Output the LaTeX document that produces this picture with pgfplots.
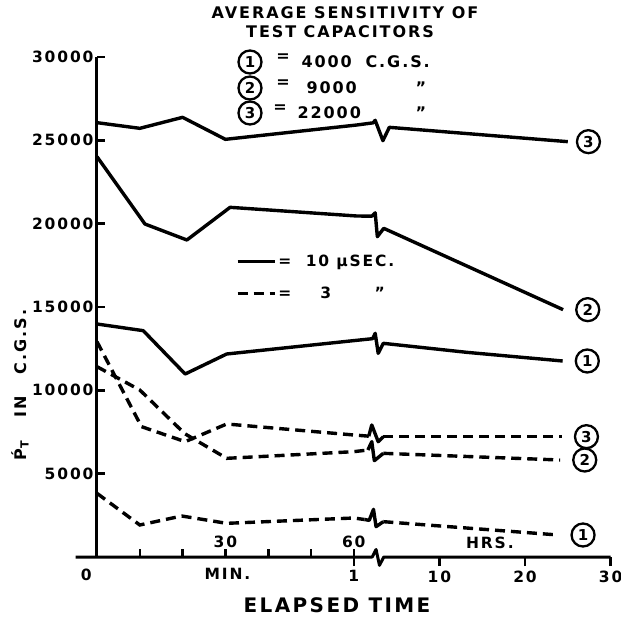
\documentclass[border=0pt]{standalone}
\usepackage{pgfplots}
\pgfplotsset{compat=1.18}
\usepackage{fontspec}
\setmainfont{DejaVu Sans}[LetterSpace=12]
\newcommand\lab{\fontsize{15.5}{18}\selectfont\bfseries}
\newcommand\tlab{\fontsize{16}{18}\selectfont\bfseries}
\newcommand\biglab{\fontsize{20}{24}\selectfont\bfseries}
\tikzset{cnum/.style={circle, draw, solid, black, line width=2.3pt, inner sep=1.2pt, minimum size=23pt, font=\fontsize{15}{15}\selectfont\bfseries}}
\tikzset{sline/.style={black, solid, line width=3.4pt, mark=none, line join=round},
  dline/.style={black, line width=3.4pt, mark=none, dash pattern=on 10pt off 6pt}}
\begin{document}
\begin{tikzpicture}[x=1pt,y=1pt]
\useasboundingbox (0,0) rectangle (621,622);
% title block
\node[font=\tlab] at (345,609) {AVERAGE SENSITIVITY OF};
\node[font=\tlab] at (340,590) {TEST CAPACITORS};
\node[cnum] at (250,560) {1};
\node[cnum] at (250,534) {2};
\node[cnum] at (250,509) {3};
\node[font=\tlab] at (283,564) {=};
\node[font=\tlab] at (283,538) {=};
\node[font=\tlab] at (280,513) {=};
\node[font=\tlab, anchor=west] at (298,560) {4000};
\node[font=\tlab, anchor=west] at (362,560) {C.G.S.};
\node[font=\tlab, anchor=west] at (303,534) {9000};
\node[font=\tlab, anchor=west] at (412,534) {''};
\node[font=\tlab, anchor=west] at (294,509) {22000};
\node[font=\tlab, anchor=west] at (412,509) {''};
% y label
\node[font=\tlab, rotate=90] at (20,237) {\'{P}\textsubscript{T}\ \ \ IN\ \ \ C.G.S.};
% x label
\node[font=\biglab] at (337,17) {ELAPSED TIME};
\begin{axis}[
  at={(97pt,65pt)}, anchor=south west,
  scale only axis, width=513.6pt, height=500pt,
  xmin=0, xmax=120, ymin=0, ymax=30000,
  clip=false,
  axis lines*=left,
  axis line style={line width=3pt},
  x axis line style={draw=none},
  every tick/.style={black, line width=2.6pt},
  tick align=inside,
  major tick length=8pt,
  ytick={5000,10000,...,30000},
  scaled y ticks=false,
  /pgf/number format/1000 sep={},
  /pgf/number format/assume math mode=true,
  yticklabel style={font=\lab},
  xtick={10,20,...,60},
  xticklabels={},
  extra x ticks={60,80,100,120},
  extra x tick labels={1,10,20,30},
  extra x tick style={tick align=outside, major tick length=9pt,
     xticklabel style={font=\lab, yshift=-1pt}},
  legend image code/.code={\draw[#1] (0pt,0pt) -- (37pt,0pt);},
  legend style={draw=none, fill=none, at={(0.27,0.612)}, anchor=north west,
     font=\lab, row sep=15pt, inner xsep=0pt},
  legend cell align=left,
]
% legend carriers first
\addplot[sline] coordinates {(0,13980) (10.8,13580) (20.6,10980) (30.3,12180) (59.9,12980) (64.4,13100) (65,13420) (65.7,12220) (66.9,12820) (86.4,12280) (108.8,11760)}
  node[pos=1, cnum, anchor=west, xshift=12pt] {1};
\addlegendentry{= \ 10 µSEC.}
\addplot[dline] coordinates {(0,12920) (10.4,7820) (20.6,6920) (30.3,7980) (60,7320) (63.5,7250)};
\addlegendentry{= \ \ \ 3 \ \ \ \ \ ''}
\addplot[sline, forget plot] coordinates {(63.5,7250) (64.2,7920) (65.7,6920) (66.9,7220)};
\addplot[dline, forget plot] coordinates {(66.9,7220) (108.6,7220)}
  node[pos=1, cnum, anchor=west, xshift=12pt] {3};
% other series
\addplot[sline, forget plot] coordinates {(0,26060) (10,25720) (20,26380) (30,25060) (60.7,25920) (64.5,26050) (65,26200) (66.8,24980) (68.3,25780) (110,24920)}
  node[pos=1, cnum, anchor=west, xshift=8pt] {3};
\addplot[sline, forget plot] coordinates {(0,24020) (11.2,19980) (21,19020) (31.1,20980) (60.7,20460) (64.2,20450) (65,20650) (65.5,19220) (67,19720) (108.9,14840)}
  node[pos=1, cnum, anchor=west, xshift=12pt] {2};
\addplot[dline, forget plot] coordinates {(0,11420) (10,10020) (20.5,7400) (30.3,5920) (60,6320) (63.3,6420)};
\addplot[sline, forget plot] coordinates {(63.3,6420) (64.2,6920) (64.8,5780) (66.9,6220)};
\addplot[dline, forget plot] coordinates {(66.9,6220) (108.2,5820)}
  node[pos=1, cnum, anchor=west, xshift=12pt] {2};
\addplot[dline, forget plot] coordinates {(0,3820) (10,1920) (19.8,2460) (30.3,2020) (60,2340) (62.5,2250)};
\addplot[sline, forget plot] coordinates {(62.5,2250) (63.6,2200) (64.6,2860) (65.2,1820) (66.9,2120)};
\addplot[dline, forget plot] coordinates {(66.9,2120) (107.8,1320)}
  node[pos=1, cnum, anchor=west, xshift=12pt] {1};
% x axis line with break
\draw[line width=3pt, line join=round] (axis cs:-5,0) -- (axis cs:64.3,0) -- (axis cs:65.2,450) -- (axis cs:66.0,-500) -- (axis cs:67.0,0) -- (axis cs:120,0);
% x axis annotations
\node[font=\lab, anchor=south] at (axis cs:30,0) [yshift=6pt] {30};
\node[font=\lab, anchor=south] at (axis cs:60,0) [yshift=6pt] {60};
\node[font=\lab, anchor=south] at (axis cs:91.8,0) [yshift=5pt] {HRS.};
\node[font=\lab, anchor=north] at (axis cs:30.5,0) [yshift=-8pt] {MIN.};
\node[font=\lab, anchor=north] at (axis cs:-2.5,0) [yshift=-8pt] {0};
\end{axis}
\end{tikzpicture}
\end{document}
